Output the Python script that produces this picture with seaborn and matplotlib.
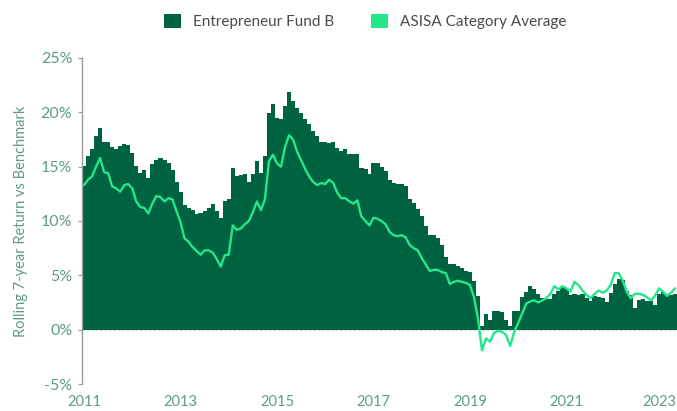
import numpy as np
import pandas as pd
import matplotlib
matplotlib.use("Agg")
import matplotlib.pyplot as plt
import matplotlib.transforms as mtransforms
from matplotlib.patches import Patch
import seaborn as sns

# Monthly observations, Jan 2011 .. Apr 2023
fund_b = [
    15.1, 16.0, 16.6, 17.8, 18.6, 17.3, 17.3, 16.8, 16.6, 16.9, 17.1, 17.0,
    16.3, 15.1, 14.4, 14.7, 14.0, 15.2, 15.6, 15.8, 15.6, 15.3, 14.7, 13.6,
    12.7, 11.5, 11.2, 11.0, 10.6, 10.7, 10.9, 11.2, 11.6, 10.9, 10.3, 11.8,
    12.0, 14.9, 14.1, 14.2, 14.3, 13.6, 14.3, 15.5, 14.4, 16.0, 19.9, 20.8,
    19.5, 19.4, 20.6, 21.9, 21.0, 20.4, 19.9, 19.4, 18.9, 18.3, 17.8, 17.3,
    17.3, 17.2, 17.3, 16.7, 16.4, 16.6, 16.2, 16.2, 16.2, 14.9, 14.8, 14.3,
    15.3, 15.3, 15.0, 14.6, 13.8, 13.5, 13.4, 13.4, 13.2, 12.0, 11.7, 11.1,
    10.5, 9.5, 8.7, 8.7, 8.4, 7.8, 6.7, 6.0, 6.0, 5.9, 5.7, 5.4,
    5.3, 4.5, 3.1, 0.3, 1.4, 0.9, 1.7, 1.7, 1.6, 0.9, 0.3, 1.75,
    1.75, 3.0, 3.5, 4.0, 3.7, 3.3, 2.9, 2.8, 2.8, 3.3, 3.6, 3.9,
    3.7, 3.2, 3.3, 3.2, 3.3, 2.9, 2.6, 3.1, 3.0, 2.9, 2.5, 3.4,
    4.2, 4.7, 4.6, 3.6, 3.2, 2.0, 2.7, 2.8, 2.6, 2.6, 2.3, 3.3,
    3.5, 3.3, 3.2, 3.3,
]
asisa_avg = [
    13.3, 13.8, 14.1, 15.0, 15.8, 14.5, 14.4, 13.2, 13.0, 12.7, 13.3, 13.4,
    13.0, 11.8, 11.3, 11.2, 10.7, 11.6, 12.3, 12.2, 11.8, 12.1, 12.0, 10.9,
    9.9, 8.4, 8.1, 7.6, 7.25, 6.9, 7.3, 7.3, 7.1, 6.5, 5.8, 6.85,
    6.9, 9.6, 9.2, 9.3, 9.7, 10.0, 10.8, 11.8, 11.0, 12.0, 15.5, 16.1,
    15.3, 15.0, 16.8, 17.9, 17.5, 16.4, 15.6, 14.8, 14.1, 13.6, 13.3, 13.5,
    13.4, 13.8, 13.5, 12.6, 12.1, 12.1, 11.8, 11.6, 11.9, 10.4, 10.0, 9.6,
    10.3, 10.2, 10.0, 9.7, 9.0, 8.7, 8.6, 8.7, 8.5, 7.8, 7.5, 7.3,
    6.6, 6.0, 5.4, 5.5, 5.5, 5.3, 5.2, 4.2, 4.4, 4.5, 4.4, 4.3,
    4.1, 3.0, 1.0, -1.9, -0.8, -1.1, -0.3, -0.1, -0.2, -0.5, -1.5, -0.2,
    0.6, 1.5, 2.4, 2.6, 2.7, 2.5, 2.7, 2.9, 3.3, 4.0, 3.7, 4.0,
    3.8, 3.5, 4.4, 4.1, 3.6, 3.2, 2.9, 3.3, 3.6, 3.4, 3.6, 4.1,
    5.2, 5.2, 4.5, 3.5, 2.9, 3.3, 3.3, 3.2, 3.0, 2.7, 3.1, 3.8,
    3.5, 3.1, 3.4, 3.8,
]
year_labels = ["2011", "2013", "2015", "2017", "2019", "2021", "2023"]
ytick_vals = [-5, 0, 5, 10, 15, 20, 25]
series_names = ["Entrepreneur Fund B", "ASISA Category Average"]

BAR_C = "#00633F"
LINE_C = "#24E68B"
TXT_C = "#5E9C82"

n = len(fund_b)
df = pd.DataFrame({"month": np.arange(n), "fund": fund_b, "asisa": asisa_avg})

sns.set_theme(style="white")
plt.rcParams["font.family"] = ["Lato", "DejaVu Sans"]

fig = plt.figure(figsize=(6.77, 4.11), dpi=100)
ax = fig.add_axes([82 / 677, 1 - 384 / 411, 1 - 82 / 677, (384 - 58) / 411])

ax.axhline(0, color="#c9d9d1", lw=0.8, ls=(0, (2, 2)), zorder=0)
sns.barplot(data=df, x="month", y="fund", native_scale=True, color=BAR_C,
            saturation=1, width=1.05, linewidth=0, ax=ax, zorder=2)
for p in ax.patches:
    p.set_antialiased(False)
sns.lineplot(data=df, x="month", y="asisa", color=LINE_C, lw=1.7, ax=ax,
             zorder=3)

ax.set_xlim(-0.5, n - 0.5)
ax.set_ylim(-5, 25)
ax.set_xticks([24 * i for i in range(len(year_labels))])
ax.set_xticklabels(year_labels)
ax.set_yticks(ytick_vals)
ax.set_yticklabels([f"{v}%" for v in ytick_vals])
ax.set_xlabel("")
ax.set_ylabel("Rolling 7-year Return vs Benchmark", color=TXT_C, fontsize=10.5,
              labelpad=9)
ax.tick_params(axis="y", colors="#9a9a9a", labelcolor=TXT_C, labelsize=11.5,
               length=3, width=0.8, direction="out", left=True, pad=4)
ax.tick_params(axis="x", labelcolor=TXT_C, labelsize=10.5, length=0, pad=8)
last = ax.get_xticklabels()[-1]
last.set_transform(last.get_transform() +
                   mtransforms.ScaledTranslation(-4 / 100, 0, fig.dpi_scale_trans))
for s in ["top", "right", "bottom"]:
    ax.spines[s].set_visible(False)
ax.spines["left"].set_color("#9a9a9a")
ax.spines["left"].set_linewidth(1.0)
ax.grid(False)

handles = [Patch(facecolor=BAR_C, edgecolor="none"),
           Patch(facecolor=LINE_C, edgecolor="none")]
fig.legend(handles, series_names, loc="center", bbox_to_anchor=(0.54, 0.948),
           ncol=2, frameon=False, fontsize=11, handlelength=1.1,
           handleheight=1.1, handletextpad=0.8, columnspacing=2.4,
           labelcolor="#4a4a4a")

fig.savefig("out.png", dpi=100)
